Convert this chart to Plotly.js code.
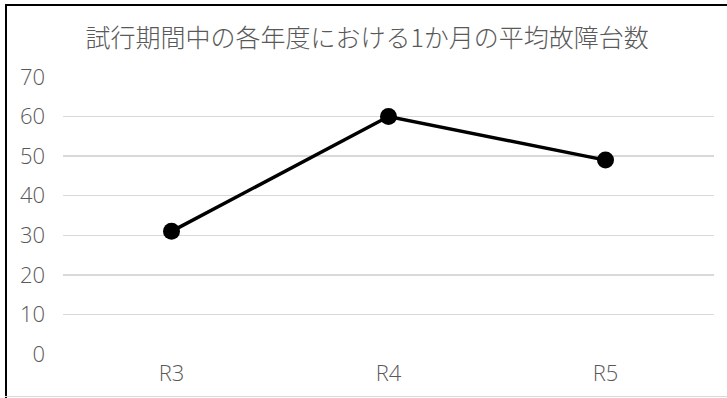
<!DOCTYPE html>
<html>
<head>
<meta charset="utf-8">
<script src="https://cdn.plot.ly/plotly-3.0.1.min.js"></script>
<style>
  html, body { margin: 0; padding: 0; background: #fff; }
  #frame { position: absolute; left: 0; top: 0; width: 727px; height: 398px; }
  #chart { position: absolute; left: 0; top: 0; width: 727px; height: 398px; }
  #bt { position: absolute; left: 5px; top: 4px; width: 722px; height: 2px; background: #000; }
  #bl { position: absolute; left: 5px; top: 4px; width: 2px; height: 394px; background: #000; }
  #bb { position: absolute; left: 5px; top: 396px; width: 722px; height: 1px; background: #d9d9d9; }
</style>
</head>
<body>
<div id="frame">
  <div id="chart"></div>
  <div id="bt"></div><div id="bl"></div><div id="bb"></div>
</div>
<script>
const chartTitle = "試行期間中の各年度における1か月の平均故障台数";
const categories = ["R3", "R4", "R5"];
const values = [31, 60, 49];
const yTicks = [0, 10, 20, 30, 40, 50, 60, 70];

const trace = {
  type: "scatter",
  mode: "lines+markers",
  x: categories,
  y: values,
  line: { color: "#000000", width: 3.5 },
  marker: { color: "#000000", size: 17 },
  hoverinfo: "skip"
};

const tickFont = { family: "Open Sans", size: 22, color: "#595959", weight: 300 };

const layout = {
  width: 727,
  height: 398,
  margin: { l: 63, r: 13, t: 77, b: 44 },
  paper_bgcolor: "#ffffff",
  plot_bgcolor: "#ffffff",
  showlegend: false,
  title: {
    text: chartTitle,
    font: { family: "Noto Sans CJK JP", size: 25, color: "#595959", weight: 300 },
    x: 0.505, xanchor: "center",
    y: 0.905, yanchor: "middle", yref: "container"
  },
  xaxis: {
    type: "category",
    range: [-0.5, 2.5],
    showgrid: false,
    zeroline: false,
    showline: false,
    ticks: "",
    ticklabelstandoff: 4,
    tickfont: tickFont
  },
  yaxis: {
    range: [0, 70],
    tickvals: yTicks,
    ticktext: yTicks.map(String),
    showgrid: true,
    gridcolor: "#d9d9d9",
    gridwidth: 1.5,
    zeroline: false,
    showline: false,
    ticks: "",
    ticklabelstandoff: 17,
    tickfont: tickFont
  }
};

Plotly.newPlot("chart", [trace], layout, { staticPlot: true, displayModeBar: false });
</script>
</body>
</html>
